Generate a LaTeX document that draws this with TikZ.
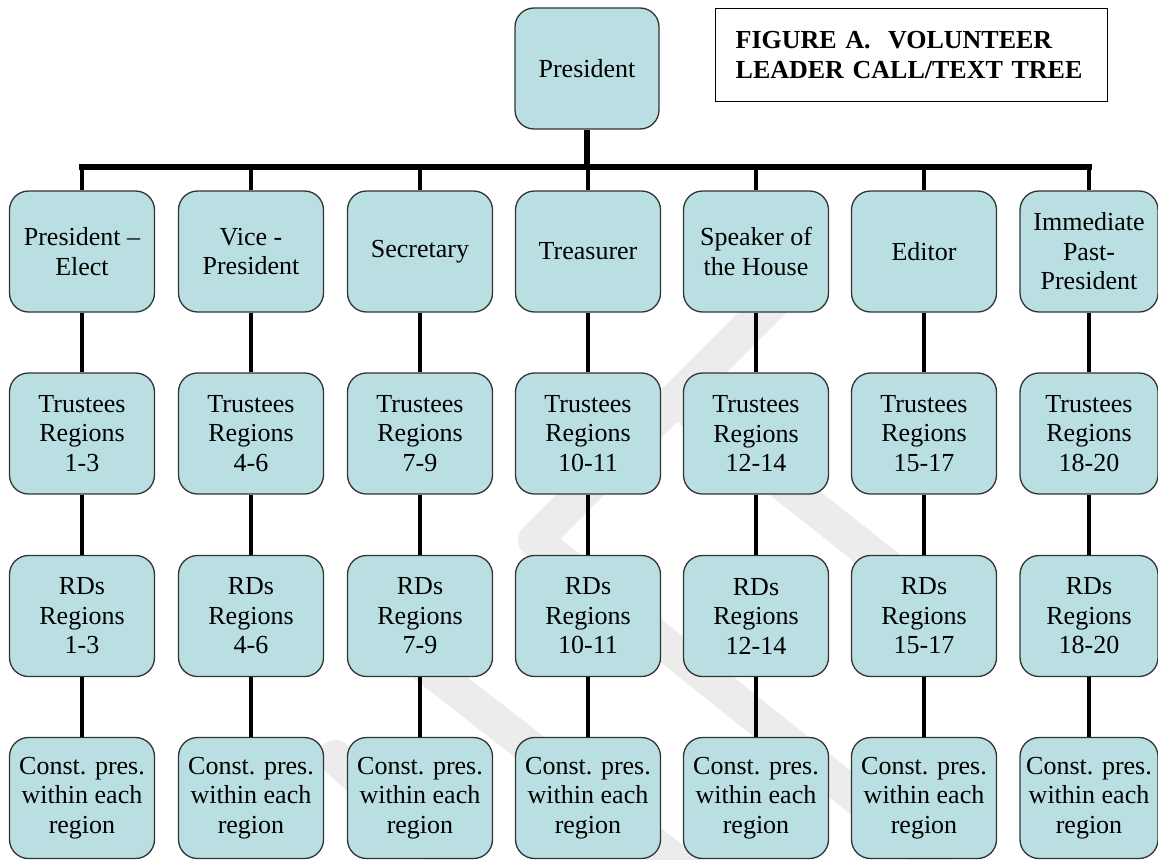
\documentclass[tikz,border=0pt]{standalone}
\usepackage{fontspec}
\setmainfont{Liberation Serif}
\definecolor{boxfill}{HTML}{B9DFE3}
\definecolor{wmgray}{HTML}{ECECEC}
\begin{document}
\begin{tikzpicture}[x=1pt,y=-1pt,
  orgbox/.style={draw=black!80, line width=1.3pt, fill=boxfill, rounded corners=19pt,
    minimum width=145pt, minimum height=121pt, inner sep=0pt, align=center,
    font=\fontsize{26}{29.5}\selectfont},
  narrowbox/.style={orgbox, minimum width=138pt},
  link/.style={line width=4.5pt, black},
  busline/.style={line width=5.5pt, black, line cap=rect},
  wmark/.style={draw=wmgray, line width=34pt, line join=round, line cap=round},
  titlebox/.style={draw=black, line width=1.3pt, fill=white, anchor=north west,
    minimum height=93pt, text width=352pt, inner xsep=20pt, inner ysep=0pt,
    align=left, font=\bfseries\fontsize{26}{29.5}\selectfont}
]
\useasboundingbox (0,0) rectangle (1158,859);
\fill[white] (0,0) rectangle (1158,859);

% watermark
\draw[wmark] (795,280) -- (535,540) -- (935,860);
\draw[wmark] (676,399) -- (930,600);
\draw[wmark] (405,650) -- (700,880);
\draw[wmark] (335,757) -- (470,880);

% top
\node[orgbox, minimum width=144pt] (pres) at (587,68.5) {President};
\node[titlebox] (title) at (715,8) {FIGURE A.\ \ VOLUNTEER\\LEADER CALL/TEXT TREE};

% row 1
\node[orgbox] (a1) at (82,251.5) {President --\\Elect};
\node[orgbox] (b1) at (251,251.5) {Vice -\\President};
\node[orgbox] (c1) at (420,251.5) {Secretary};
\node[orgbox] (d1) at (588,251.5) {Treasurer};
\node[orgbox] (e1) at (756,251.5) {Speaker of\\the House};
\node[orgbox] (f1) at (924,251.5) {Editor};
\node[narrowbox] (g1) at (1089,251.5) {Immediate\\Past-\\President};

% row 2
\node[orgbox] (a2) at (82,433.5) {Trustees\\Regions\\1-3};
\node[orgbox] (b2) at (251,433.5) {Trustees\\Regions\\4-6};
\node[orgbox] (c2) at (420,433.5) {Trustees\\Regions\\7-9};
\node[orgbox] (d2) at (588,433.5) {Trustees\\Regions\\10-11};
\node[orgbox] (e2) at (756,433.5) {Trustees\\Regions\\12-14};
\node[orgbox] (f2) at (924,433.5) {Trustees\\Regions\\15-17};
\node[narrowbox] (g2) at (1089,433.5) {Trustees\\Regions\\18-20};

% row 3
\node[orgbox] (a3) at (82,616) {RDs\\Regions\\1-3};
\node[orgbox] (b3) at (251,616) {RDs\\Regions\\4-6};
\node[orgbox] (c3) at (420,616) {RDs\\Regions\\7-9};
\node[orgbox] (d3) at (588,616) {RDs\\Regions\\10-11};
\node[orgbox] (e3) at (756,616) {RDs\\Regions\\12-14};
\node[orgbox] (f3) at (924,616) {RDs\\Regions\\15-17};
\node[narrowbox] (g3) at (1089,616) {RDs\\Regions\\18-20};

% row 4
\node[orgbox] (a4) at (82,798) {Const. pres.\\within each\\region};
\node[orgbox] (b4) at (251,798) {Const. pres.\\within each\\region};
\node[orgbox] (c4) at (420,798) {Const. pres.\\within each\\region};
\node[orgbox] (d4) at (588,798) {Const. pres.\\within each\\region};
\node[orgbox] (e4) at (756,798) {Const. pres.\\within each\\region};
\node[orgbox] (f4) at (924,798) {Const. pres.\\within each\\region};
\node[narrowbox] (g4) at (1089,798) {Const. pres.\\within each\\region};

% bus
\coordinate (busP) at (587,167);
\draw[busline] (a1.north |- busP) -- (g1.north |- busP);
\draw[line width=6pt] (pres.south) -- (busP);
\foreach \n in {a,b,c,d,e,f,g}{
  \draw[link] (\n1.north |- busP) -- (\n1.north);
  \draw[link] (\n1) -- (\n2);
  \draw[link] (\n2) -- (\n3);
  \draw[link] (\n3) -- (\n4);
}
\end{tikzpicture}
\end{document}
